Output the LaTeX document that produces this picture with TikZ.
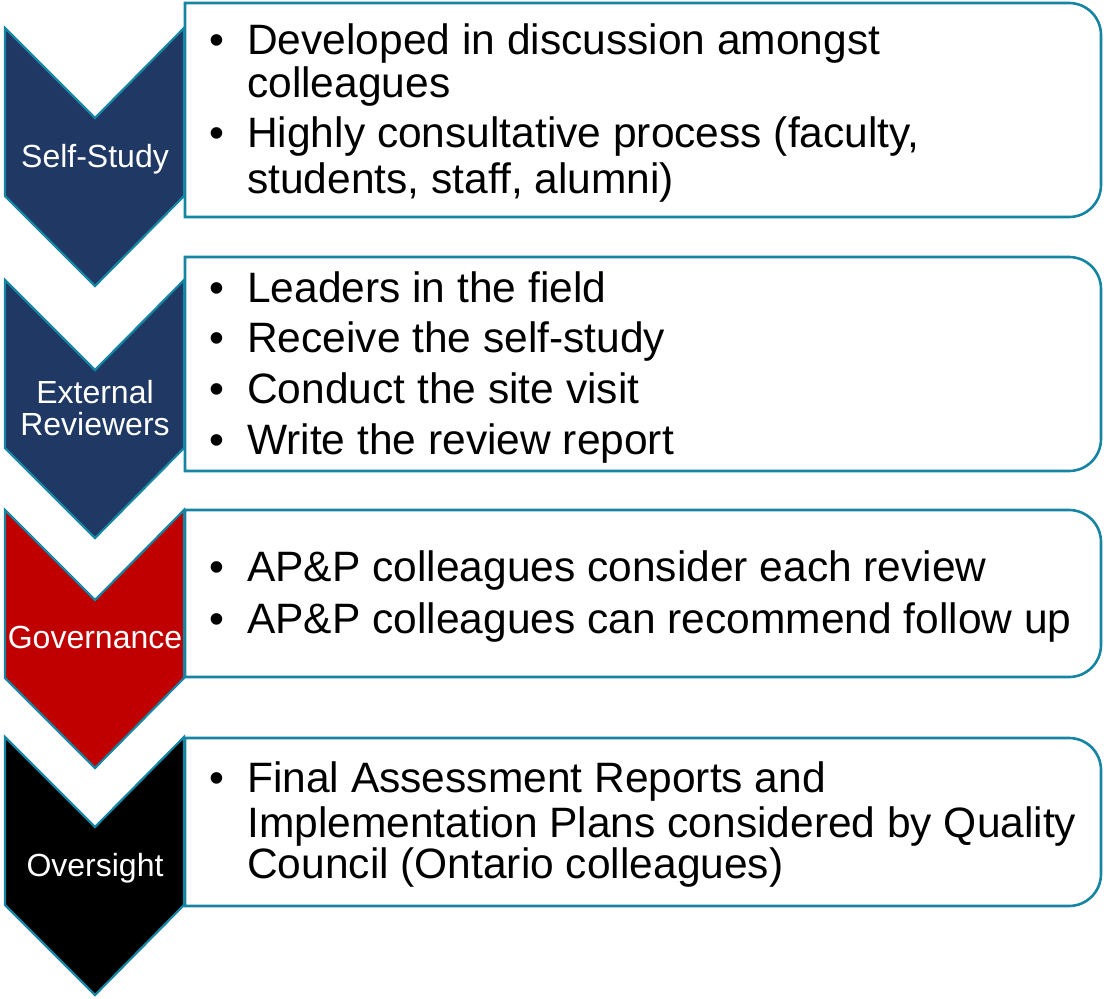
\documentclass[tikz,border=0pt]{standalone}
\usepackage{fontspec}
\setmainfont{Liberation Sans}
\definecolor{edge}{RGB}{21,133,163}
\definecolor{navy}{RGB}{31,56,100}
\definecolor{dred}{RGB}{192,0,0}
\begin{document}
\begin{tikzpicture}[x=1pt,y=1pt,
  chev/.style={draw=edge,line width=2.2pt,line join=miter},
  box/.style={draw=edge,line width=2.6pt,fill=white},
  lab/.style={text=white,font=\fontsize{32}{33}\selectfont,inner sep=0,anchor=base},
  itm/.style={font=\fontsize{42.5}{44}\selectfont,inner sep=0,anchor=base west},
  bul/.style={font=\fontsize{42.5}{44}\selectfont,inner sep=0,anchor=base}]
\useasboundingbox (0,0) rectangle (1104,-999);
% chevrons
\draw[chev,fill=navy] (5,-28) -- (95,-118) -- (184,-28) -- (184,-196) -- (95,-286) -- (5,-196) -- cycle;
\draw[chev,fill=navy] (5,-280) -- (95,-370) -- (184,-280) -- (184,-448) -- (95,-538) -- (5,-448) -- cycle;
\draw[chev,fill=dred] (5,-510) -- (95,-600) -- (184,-510) -- (184,-678) -- (95,-768) -- (5,-678) -- cycle;
\draw[chev,fill=black] (5,-737) -- (95,-827) -- (184,-737) -- (184,-905) -- (95,-995) -- (5,-905) -- cycle;
% boxes
\draw[box] (185,-3) -- (1069,-3) arc[start angle=90,end angle=0,radius=32] -- (1101,-185) arc[start angle=0,end angle=-90,radius=32] -- (185,-217) -- cycle;
\draw[box] (185,-257) -- (1069,-257) arc[start angle=90,end angle=0,radius=32] -- (1101,-439) arc[start angle=0,end angle=-90,radius=32] -- (185,-471) -- cycle;
\draw[box] (185,-510) -- (1069,-510) arc[start angle=90,end angle=0,radius=32] -- (1101,-645) arc[start angle=0,end angle=-90,radius=32] -- (185,-677) -- cycle;
\draw[box] (185,-738) -- (1069,-738) arc[start angle=90,end angle=0,radius=32] -- (1101,-874) arc[start angle=0,end angle=-90,radius=32] -- (185,-906) -- cycle;
% chevron labels
\node[lab] (l1) at (95,-167) {Self-Study};
\node[lab] (l2a) at (95,-403) {External};
\node[lab] (l2b) at (95,-435) {Reviewers};
\node[lab] (l3) at (95,-648) {Governance};
\node[lab] (l4) at (95,-876) {Oversight};
% box 1
\node[bul] (b11) at (217,-54) {•};
\node[itm] (t11) at (247,-54) {Developed in discussion amongst};
\node[itm] (t11b) at (247,-97) {colleagues};
\node[bul] (b12) at (217,-147) {•};
\node[itm] (t12) at (247,-147) {Highly consultative process (faculty,};
\node[itm] (t12b) at (247,-193) {students, staff, alumni)};
% box 2
\node[bul] (b21) at (217,-302) {•};
\node[itm] (t21) at (247,-302) {Leaders in the field};
\node[bul] (b22) at (217,-352) {•};
\node[itm] (t22) at (247,-352) {Receive the self-study};
\node[bul] (b23) at (217,-403) {•};
\node[itm] (t23) at (247,-403) {Conduct the site visit};
\node[bul] (b24) at (217,-454) {•};
\node[itm] (t24) at (247,-454) {Write the review report};
% box 3
\node[bul] (b31) at (217,-581) {•};
\node[itm] (t31) at (247,-581) {AP\&P colleagues consider each review};
\node[bul] (b32) at (217,-633) {•};
\node[itm] (t32) at (247,-633) {AP\&P colleagues can recommend follow up};
% box 4
\node[bul] (b41) at (217,-792) {•};
\node[itm] (t41) at (247,-792) {Final Assessment Reports and};
\node[itm] (t41b) at (247,-837) {Implementation Plans considered by Quality};
\node[itm] (t41c) at (247,-878) {Council (Ontario colleagues)};
\end{tikzpicture}
\end{document}
